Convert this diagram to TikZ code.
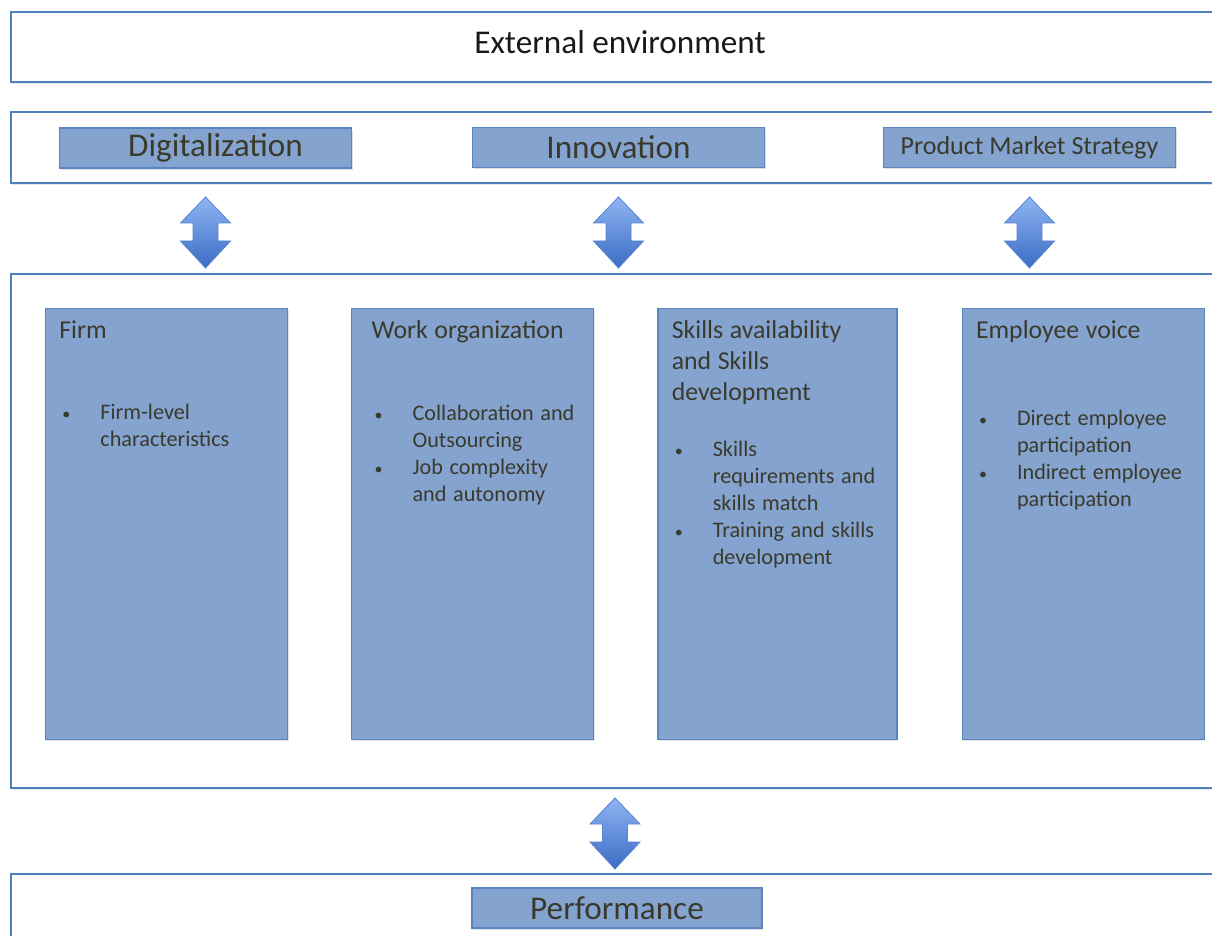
\documentclass[tikz,border=0pt]{standalone}
\usepackage{fontspec}
\setmainfont{Carlito}
\usepackage{enumitem}
\usetikzlibrary{positioning, shadows}

\setlength{\parindent}{0pt}

\definecolor{bandblue}{HTML}{4F81BD}
\definecolor{cellfill}{HTML}{85A3CF}
\definecolor{celledge}{HTML}{5884C0}
\definecolor{ink}{HTML}{3A3A2C}
\definecolor{arrowlight}{HTML}{8EB4F3}
\definecolor{arrowdark}{HTML}{3B6DC4}

\newcommand{\headfont}{\fontsize{16.6}{19}\selectfont}
\newcommand{\titlefont}{\fontsize{12.9}{15.5}\selectfont}
\newcommand{\itemfont}{\fontsize{11.1}{13.5}\selectfont}

% bullet list used inside the four panels
\newlist{factors}{itemize}{1}
\setlist[factors]{label={\fontsize{8}{8}\selectfont\textbullet}, nosep, labelindent=1.5pt,
  labelwidth=19pt, labelsep=0pt, leftmargin=20.5pt, align=left}

\tikzset{
  band/.style={draw=bandblue, line width=1pt, fill=white, minimum width=610pt,
    anchor=north west, inner sep=0pt,
    drop shadow={opacity=0.18, shadow xshift=0.6pt, shadow yshift=-1.2pt}},
  driver/.style={draw=celledge, fill=cellfill, line width=0.6pt, minimum width=146pt,
    minimum height=20pt, inner sep=0pt, text=ink, font=\headfont,
    drop shadow={opacity=0.25, shadow xshift=0.6pt, shadow yshift=-1pt}},
  panel/.style={draw=celledge, fill=cellfill, line width=0.6pt, minimum width=121pt,
    minimum height=215.5pt, anchor=north west, inner sep=0pt,
    drop shadow={opacity=0.2, shadow xshift=0.6pt, shadow yshift=-0.8pt}},
  paneltext/.style={anchor=north west, inner sep=0pt, text width=112pt,
    align=left, text=ink},
  % block arrow pointing both ways, top apex at the pic origin
  twoway/.pic={
    \shade[top color=arrowlight, bottom color=arrowdark, draw=arrowdark!85, line width=0.4pt]
      (0,0) -- (25,26) -- (12.5,26) -- (12.5,44) -- (25,44) -- (0,71)
      -- (-25,44) -- (-12.5,44) -- (-12.5,26) -- (-25,26) -- cycle;
  }
}

\begin{document}
\begin{tikzpicture}[x=0.5pt, y=-0.5pt]
\clip (0,0) rectangle (1212,936);
\fill[white] (0,0) rectangle (1212,936);

% horizontal bands
\node[band, minimum height=35pt] (extband) at (10,11) {};
\node[text=black!90, font=\headfont] (extlabel) at (620,42) {External environment};
\node[band, minimum height=35.5pt] (drivers) at (10,111) {};
\node[band, minimum height=257pt] (mainband) at (10,273) {};
\node[band, minimum height=50pt] (perfband) at (10,873) {};

% drivers row
\node[driver] (dig) at (205.5,148) {\raisebox{-1.5pt}{\hspace{10pt}Digitalization}};
\node[driver] (inno) at (618.5,147.5) {\raisebox{-1pt}{Innovation}};
\node[driver, font=\fontsize{13}{15}\selectfont] (pms) at (1029.5,147.5) {\raisebox{-1pt}{Product Market Strategy}};

\foreach \d in {dig,inno,pms} {
  \path (\d.center |- drivers.south) ++(0,13) pic {twoway};
}

% panels
\node[panel] (firm) at (45,308) {};
\node[panel, right=31.5pt of firm] (work) {};
\node[panel, right=31.5pt of work, minimum width=119.5pt] (skills) {};
\node[panel, right=32pt of skills] (voice) {};

\node[paneltext] (firmtxt) at ([shift={(14,8.3)}]firm.north west)
  {\titlefont\strut Firm\par\vspace{27pt}\itemfont
   \begin{factors}
     \item Firm-level\newline characteristics
   \end{factors}};
\node[paneltext] (worktxt) at ([shift={(20,8.3)}]work.north west)
  {\titlefont\strut Work organization\par\vspace{27.5pt}\itemfont
   \begin{factors}
     \item Collaboration and\newline Outsourcing
     \item Job complexity\newline and autonomy
   \end{factors}};
\node[paneltext] (skillstxt) at ([shift={(14,8.3)}]skills.north west)
  {\titlefont\strut Skills availability\newline and Skills\newline development\par\vspace{14.5pt}\itemfont
   \begin{factors}
     \item Skills\newline requirements and\newline skills match
     \item Training and skills\newline development
   \end{factors}};
\node[paneltext] (voicetxt) at ([shift={(14,8.3)}]voice.north west)
  {\titlefont\strut Employee voice\par\vspace{30pt}\itemfont
   \begin{factors}
     \item Direct employee\newline participation
     \item Indirect employee\newline participation
   \end{factors}};

% outcome
\node[driver, minimum width=145pt] (perf) at (617,908) {\raisebox{-1pt}{Performance}};
\path (perf.center |- mainband.south) ++(-2,9) pic {twoway};
\end{tikzpicture}
\end{document}
